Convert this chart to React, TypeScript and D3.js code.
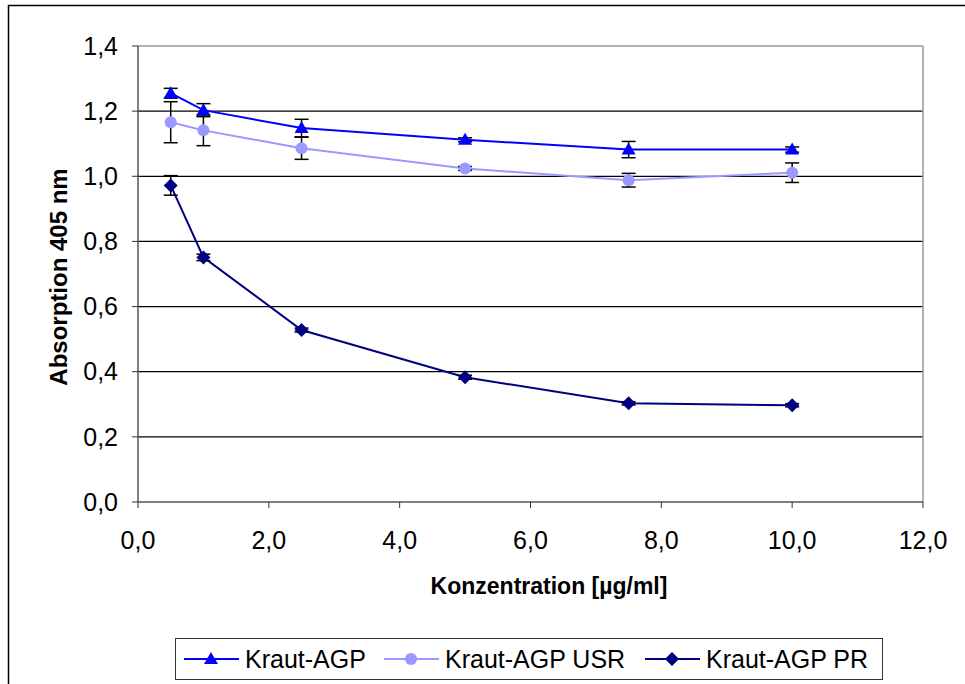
import React from "react";
import * as d3 from "d3";

const xValues = [0.5, 1.0, 2.5, 5.0, 7.5, 10.0];
const agp = [1.255, 1.203, 1.148, 1.112, 1.082, 1.082];
const agpErr = [0.015, 0.02, 0.027, 0.006, 0.025, 0.008];
const usr = [1.166, 1.141, 1.086, 1.024, 0.988, 1.011];
const usrErr = [0.063, 0.047, 0.034, 0.006, 0.021, 0.03];
const pr = [0.972, 0.751, 0.528, 0.383, 0.303, 0.297];
const prErr = [0.03, 0.01, 0.006, 0.006, 0.005, 0.005];
const xTicks = [0, 2, 4, 6, 8, 10, 12];
const yTicks = [0, 0.2, 0.4, 0.6, 0.8, 1.0, 1.2, 1.4];
const seriesNames = ["Kraut-AGP", "Kraut-AGP USR", "Kraut-AGP PR"];
const seriesColors = ["#0000FF", "#9999FF", "#000080"];
const seriesMarkers = ["triangle", "circle", "diamond"];

const fmt = (v: number) => v.toFixed(1).replace(".", ",");

function Marker({ type, x, y, color }: { type: string; x: number; y: number; color: string }) {
  if (type === "triangle") {
    return <path d={`M${x},${y - 7} L${x + 7},${y + 5} L${x - 7},${y + 5} Z`} fill={color} />;
  }
  if (type === "circle") {
    return <circle cx={x} cy={y} r={6} fill={color} />;
  }
  return <path d={`M${x},${y - 7} L${x + 7},${y} L${x},${y + 7} L${x - 7},${y} Z`} fill={color} />;
}

export default function App() {
  const W = 965, H = 684;
  const left = 138, right = 923, top = 46, bottom = 502;
  const x = d3.scaleLinear().domain([0, 12]).range([left, right]);
  const y = d3.scaleLinear().domain([0, 1.4]).range([bottom, top]);
  const series = [
    { vals: agp, errs: agpErr },
    { vals: usr, errs: usrErr },
    { vals: pr, errs: prErr },
  ];
  const line = d3.line<number>().x((_, i) => x(xValues[i])).y((d) => y(d));
  const font = "Arial, 'Liberation Sans', sans-serif";

  const legendItems = [
    { lx: 184, tx: 245 },
    { lx: 384, tx: 445 },
    { lx: 645, tx: 706 },
  ];

  return (
    <svg width={W} height={H} style={{ position: "absolute", left: 0, top: 0 }} fontFamily={font}>
      <rect x={0} y={0} width={W} height={H} fill="#fff" />
      <rect x={8.5} y={5.5} width={W + 10} height={H + 10} fill="none" stroke="#000" strokeWidth={1.5} />
      {yTicks.slice(1, -1).map((t) => (
        <line key={t} x1={left} x2={right} y1={y(t)} y2={y(t)} stroke="#000" strokeWidth={1.2} />
      ))}
      <line x1={left} x2={right} y1={top} y2={top} stroke="#999" strokeWidth={1.5} />
      <line x1={right} x2={right} y1={top} y2={bottom} stroke="#999" strokeWidth={1.5} />
      <line x1={left} x2={left} y1={top} y2={bottom} stroke="#555" strokeWidth={1.5} />
      <line x1={left} x2={right} y1={bottom} y2={bottom} stroke="#555" strokeWidth={1.5} />
      {yTicks.map((t) => (
        <g key={t}>
          <line x1={left - 6} x2={left} y1={y(t)} y2={y(t)} stroke="#333" strokeWidth={1} />
          <text x={left - 20} y={y(t)} dy="0.35em" textAnchor="end" fontSize={25}>
            {fmt(t)}
          </text>
        </g>
      ))}
      {xTicks.map((t) => (
        <g key={t}>
          <line x1={x(t)} x2={x(t)} y1={bottom} y2={bottom + 6} stroke="#333" strokeWidth={1} />
          <text x={x(t)} y={bottom + 47} textAnchor="middle" fontSize={25}>
            {fmt(t)}
          </text>
        </g>
      ))}
      <text x={549} y={594} textAnchor="middle" fontSize={23} fontWeight="bold">
        Konzentration [µg/ml]
      </text>
      <text
        transform={`translate(67,${(top + bottom) / 2 + 3}) rotate(-90)`}
        textAnchor="middle"
        fontSize={24}
        fontWeight="bold"
      >
        Absorption 405 nm
      </text>
      {series.map((s, si) => (
        <path key={si} d={line(s.vals) || ""} fill="none" stroke={seriesColors[si]} strokeWidth={2} />
      ))}
      {series.map((s, si) => (
        <g key={"e" + si}>
          {s.vals.map((v, i) => {
            const cx = x(xValues[i]);
            const y1 = y(v + s.errs[i]);
            const y2 = y(v - s.errs[i]);
            return (
              <g key={i} stroke="#000" strokeWidth={1.5}>
                <line x1={cx} x2={cx} y1={y1} y2={y2} />
                <line x1={cx - 7} x2={cx + 7} y1={y1} y2={y1} />
                <line x1={cx - 7} x2={cx + 7} y1={y2} y2={y2} />
              </g>
            );
          })}
        </g>
      ))}
      {series.map((s, si) => (
        <g key={"m" + si}>
          {s.vals.map((v, i) => (
            <Marker key={i} type={seriesMarkers[si]} x={x(xValues[i])} y={y(v)} color={seriesColors[si]} />
          ))}
        </g>
      ))}
      <rect x={175.5} y={638.5} width={707} height={41} fill="#fff" stroke="#333" strokeWidth={1} />
      {legendItems.map((li, i) => (
        <g key={i}>
          <line x1={li.lx} x2={li.lx + 55} y1={659} y2={659} stroke={seriesColors[i]} strokeWidth={2} />
          <Marker type={seriesMarkers[i]} x={li.lx + 27} y={659} color={seriesColors[i]} />
          <text x={li.tx} y={659} dy="0.36em" fontSize={25}>
            {seriesNames[i]}
          </text>
        </g>
      ))}
    </svg>
  );
}
